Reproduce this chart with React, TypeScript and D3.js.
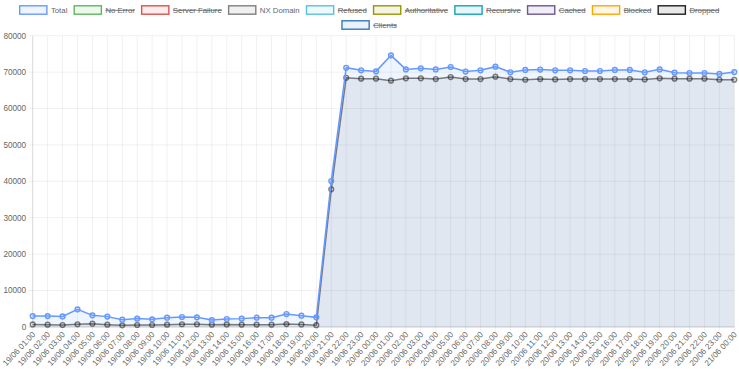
import React, { useEffect, useRef } from "react";
import * as d3 from "d3";

const labels = [
  "19/06 01:00", "19/06 02:00", "19/06 03:00", "19/06 04:00", "19/06 05:00", "19/06 06:00",
  "19/06 07:00", "19/06 08:00", "19/06 09:00", "19/06 10:00", "19/06 11:00", "19/06 12:00",
  "19/06 13:00", "19/06 14:00", "19/06 15:00", "19/06 16:00", "19/06 17:00", "19/06 18:00",
  "19/06 19:00", "19/06 20:00", "19/06 21:00", "19/06 22:00", "19/06 23:00", "20/06 00:00",
  "20/06 01:00", "20/06 02:00", "20/06 03:00", "20/06 04:00", "20/06 05:00", "20/06 06:00",
  "20/06 07:00", "20/06 08:00", "20/06 09:00", "20/06 10:00", "20/06 11:00", "20/06 12:00",
  "20/06 13:00", "20/06 14:00", "20/06 15:00", "20/06 16:00", "20/06 17:00", "20/06 18:00",
  "20/06 19:00", "20/06 20:00", "20/06 21:00", "20/06 22:00", "20/06 23:00", "21/06 00:00",
];

const total = [
  3000, 3000, 2900, 4850, 3200, 2850, 2000, 2300, 2100, 2550, 2750, 2650, 1900, 2200, 2300, 2550,
  2550, 3550, 3100, 2650, 40100, 71200, 70500, 70200, 74600, 70750, 71050, 70750, 71400, 70150,
  70500, 71500, 69950, 70600, 70700, 70500, 70500, 70300, 70300, 70600, 70600, 69950, 70750, 69850,
  69750, 69750, 69500, 70000,
];

const nxDomain = [
  700, 650, 550, 750, 900, 650, 450, 550, 550, 650, 750, 750, 650, 700, 650, 650, 650, 800, 700, 500,
  37800, 68450, 68200, 68200, 67650, 68300, 68300, 68100, 68650, 68100, 68100, 68750, 68100, 67900,
  68100, 68000, 68100, 68100, 68100, 68100, 68100, 68000, 68300, 68200, 68200, 68200, 67900, 67900,
];

const yTicks = [0, 10000, 20000, 30000, 40000, 50000, 60000, 70000, 80000];

// legend entries (hidden ones are struck through)
const legendItems = [
  { label: "Total", bg: "rgba(102,153,255,0.1)", border: "rgb(102,153,255)", hidden: false },
  { label: "No Error", bg: "rgba(92,184,92,0.1)", border: "rgb(92,184,92)", hidden: true },
  { label: "Server Failure", bg: "rgba(217,83,79,0.1)", border: "rgb(217,83,79)", hidden: true },
  { label: "NX Domain", bg: "rgba(7,7,7,0.06)", border: "rgba(7,7,7,0.5)", hidden: false },
  { label: "Refused", bg: "rgba(91,192,222,0.1)", border: "rgb(91,192,222)", hidden: true },
  { label: "Authoritative", bg: "rgba(150,150,0,0.1)", border: "rgb(150,150,0)", hidden: true },
  { label: "Recursive", bg: "rgba(23,162,184,0.1)", border: "rgb(23,162,184)", hidden: true },
  { label: "Cached", bg: "rgba(111,84,153,0.1)", border: "rgb(111,84,153)", hidden: true },
  { label: "Blocked", bg: "rgba(255,165,0,0.1)", border: "rgb(255,165,0)", hidden: true },
  { label: "Dropped", bg: "rgba(30,30,30,0.1)", border: "rgb(30,30,30)", hidden: true },
  { label: "Clients", bg: "rgba(51,122,183,0.1)", border: "rgb(51,122,183)", hidden: true },
];

const W = 739;
const H = 369;
const FONT = "'Liberation Sans', Arial, Helvetica, sans-serif";
const FS = 8.2;
const LEGEND_FS = 7.8;

const App = () => {
  const svgRef = useRef<SVGSVGElement>(null);

  useEffect(() => {
    const svg = d3.select(svgRef.current);
    svg.selectAll("*").remove();

    const margin = { top: 35.7, right: 4.7, bottom: 42, left: 32.7 };

    const x = d3
      .scalePoint<string>()
      .domain(labels)
      .range([margin.left, W - margin.right]);

    const y = d3
      .scaleLinear()
      .domain([0, 80000])
      .range([H - margin.bottom, margin.top]);

    const plotBottom = H - margin.bottom;

    // grid
    const grid = svg.append("g");
    grid
      .selectAll("line.v")
      .data(labels)
      .enter()
      .append("line")
      .attr("x1", (d) => x(d)!)
      .attr("x2", (d) => x(d)!)
      .attr("y1", margin.top)
      .attr("y2", plotBottom + 4)
      .attr("stroke", "rgba(0,0,0,0.08)")
      .attr("stroke-width", 0.8);
    grid
      .selectAll("line.h")
      .data(yTicks)
      .enter()
      .append("line")
      .attr("x1", margin.left - 4)
      .attr("x2", W - margin.right)
      .attr("y1", (d) => y(d))
      .attr("y2", (d) => y(d))
      .attr("stroke", (d) => (d === 0 ? "rgba(0,0,0,0.25)" : "rgba(0,0,0,0.08)"))
      .attr("stroke-width", 0.8);
    grid
      .append("line")
      .attr("x1", margin.left)
      .attr("x2", margin.left)
      .attr("y1", margin.top)
      .attr("y2", plotBottom)
      .attr("stroke", "rgba(0,0,0,0.12)")
      .attr("stroke-width", 0.8);

    // y labels
    svg
      .append("g")
      .selectAll("text")
      .data(yTicks)
      .enter()
      .append("text")
      .attr("x", margin.left - 6.5)
      .attr("y", (d) => y(d))
      .attr("dy", "0.35em")
      .attr("text-anchor", "end")
      .attr("font-family", FONT)
      .attr("font-size", FS)
      .attr("fill", "#666")
      .text((d) => d);

    // x labels, rotated
    svg
      .append("g")
      .selectAll("text")
      .data(labels)
      .enter()
      .append("text")
      .attr("x", (d) => x(d)! + 1)
      .attr("y", plotBottom + 6)
      .attr("dy", "0.35em")
      .attr("text-anchor", "end")
      .attr("transform", (d) => `rotate(-47, ${x(d)! + 1}, ${plotBottom + 6})`)
      .attr("font-family", FONT)
      .attr("font-size", FS)
      .attr("fill", "#666")
      .text((d) => d);

    // series (drawn last dataset first, like Chart.js)
    const series = [
      { values: nxDomain, item: legendItems[3] },
      { values: total, item: legendItems[0] },
    ];

    const area = d3
      .area<number>()
      .x((d, i) => x(labels[i])!)
      .y0(y(0))
      .y1((d) => y(d));
    const line = d3
      .line<number>()
      .x((d, i) => x(labels[i])!)
      .y((d) => y(d));

    series.forEach((s) => {
      svg.append("path").datum(s.values).attr("fill", s.item.bg).attr("d", area);
    });
    series.forEach((s) => {
      svg
        .append("path")
        .datum(s.values)
        .attr("fill", "none")
        .attr("stroke", s.item.border)
        .attr("stroke-width", 1.5)
        .attr("d", line);
      svg
        .append("g")
        .selectAll("circle")
        .data(s.values)
        .enter()
        .append("circle")
        .attr("cx", (d, i) => x(labels[i])!)
        .attr("cy", (d) => y(d))
        .attr("r", 2.4)
        .attr("fill", s.item.bg)
        .attr("stroke", s.item.border)
        .attr("stroke-width", 1.4);
    });

    // legend
    const boxW = 27.2;
    const boxH = 8.4;
    const pad = 6.8;
    const lineH = 15;
    const maxW = W - 20;
    const legend = svg.append("g");

    const measure = legend
      .append("text")
      .attr("font-family", FONT)
      .attr("font-size", LEGEND_FS);
    const widths = legendItems.map((it) => {
      measure.text(it.label);
      const tw = (measure.node() as SVGTextElement).getComputedTextLength();
      return boxW + 4 + tw;
    });
    measure.remove();

    const rows: number[][] = [[]];
    let rowW = 0;
    widths.forEach((w, i) => {
      const cur = rows[rows.length - 1];
      if (cur.length && rowW + w + pad > maxW) {
        rows.push([i]);
        rowW = w;
      } else {
        cur.push(i);
        rowW += (cur.length > 1 ? pad : 0) + w;
      }
    });

    rows.forEach((row, r) => {
      const rw = d3.sum(row, (i) => widths[i]) + pad * (row.length - 1);
      let cx = (W - rw) / 2;
      const cy = 10 + r * lineH;
      row.forEach((i) => {
        const it = legendItems[i];
        legend
          .append("rect")
          .attr("x", cx)
          .attr("y", cy - boxH / 2)
          .attr("width", boxW)
          .attr("height", boxH)
          .attr("fill", it.bg)
          .attr("stroke", it.border)
          .attr("stroke-width", 1.4);
        const tx = cx + boxW + 4;
        const t = legend
          .append("text")
          .attr("x", tx)
          .attr("y", cy)
          .attr("dy", "0.35em")
          .attr("font-family", FONT)
          .attr("font-size", LEGEND_FS)
          .attr("fill", "#666")
          .text(it.label);
        if (it.hidden) {
          const tw = (t.node() as SVGTextElement).getComputedTextLength();
          legend
            .append("line")
            .attr("x1", tx)
            .attr("x2", tx + tw)
            .attr("y1", cy + 0.3)
            .attr("y2", cy + 0.3)
            .attr("stroke", "#666")
            .attr("stroke-width", 0.8);
        }
        cx += widths[i] + pad;
      });
    });
  }, []);

  return (
    <svg
      ref={svgRef}
      width={W}
      height={H}
      style={{ position: "absolute", left: 0, top: 0, background: "#fff" }}
    ></svg>
  );
};

export default App;
